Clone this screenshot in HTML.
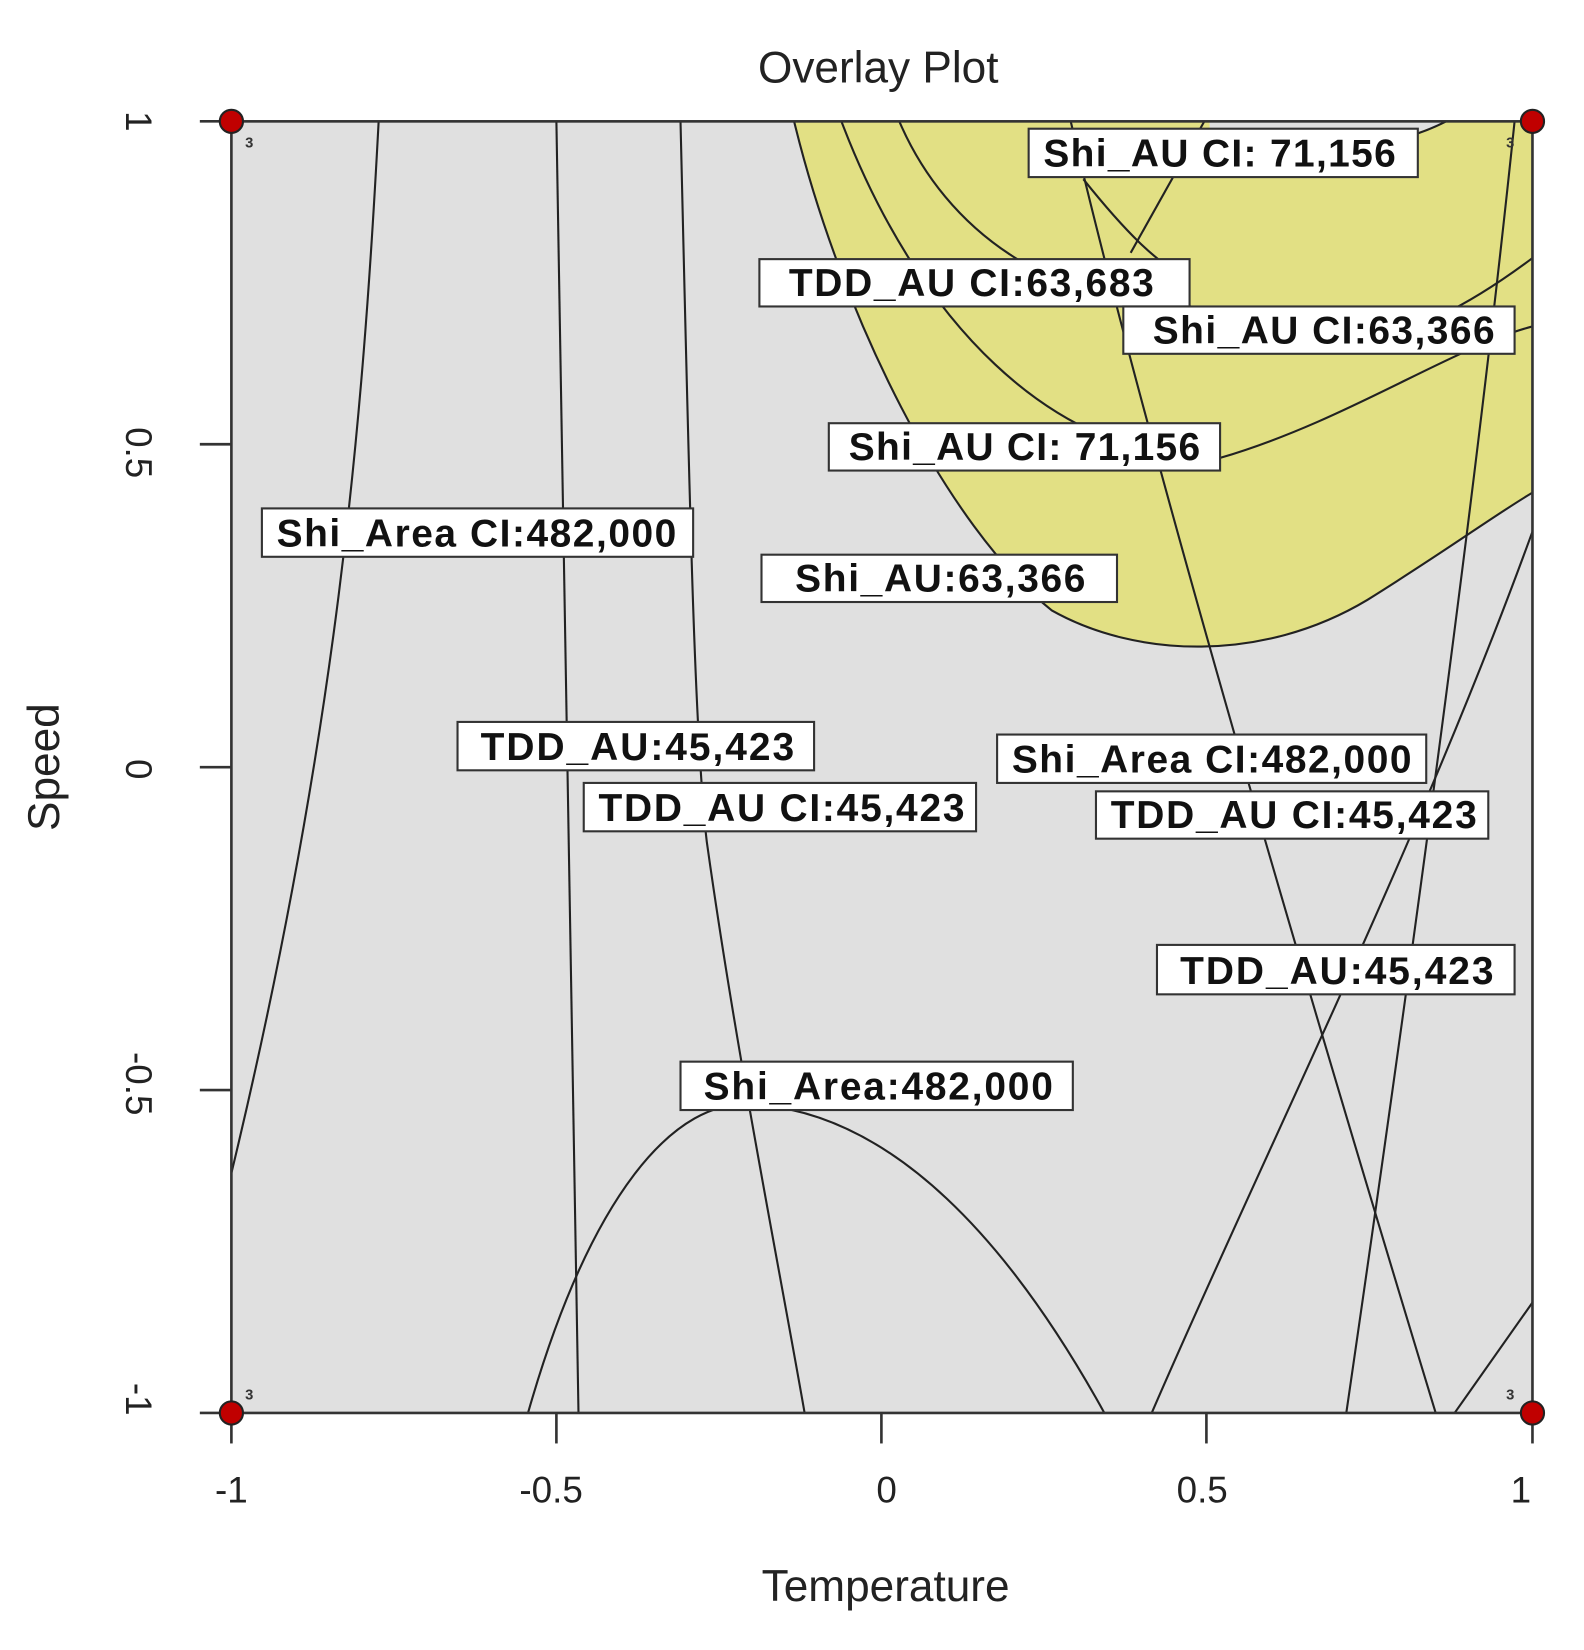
<!DOCTYPE html>
<html><head><style>html,body{margin:0;padding:0;background:#fff;}svg{display:block;}</style></head>
<body>
<svg width="1584" height="1650" viewBox="0 0 1506 1568" xmlns="http://www.w3.org/2000/svg" font-family="'Liberation Sans', sans-serif">
<rect x="0" y="0" width="1506" height="1568" fill="#fff"/>
<rect x="220" y="115" width="1237" height="1228" fill="#e0e0e0"/>
<path d="M755,115 C800,300 900,500 1000,580 C1080,625 1200,630 1300,570 C1380,520 1420,490 1457,468 L1457,115 Z" fill="#e2e084"/>
<path d="M1150,115 L1375,115 C1345,128 1310,136 1285,142 L1150,142 Z" fill="#e0e0e0"/>
<g fill="none" stroke="#222" stroke-width="2">
<path d="M755,115 C800,300 900,500 1000,580 C1080,625 1200,630 1300,570 C1380,520 1420,490 1457,468"/>
<path d="M360,115 C345,400 320,700 220,1115"/>
<path d="M529,115 C535,500 545,900 550,1343"/>
<path d="M647,115 C655,450 660,700 672,800 C700,1000 740,1200 765,1343"/>
<path d="M502,1343 C560,1140 640,1040 720,1050 C850,1060 960,1180 1050,1343"/>
<path d="M800,115 C870,300 1000,440 1160,435 C1280,400 1380,330 1457,310"/>
<path d="M855,115 C900,220 1000,290 1130,290 C1250,345 1330,340 1457,245"/>
<path d="M1018,115 C1080,380 1200,800 1365,1343"/>
<path d="M1145,115 L1075,240"/>
<path d="M1030,170 C1070,220 1100,250 1130,265"/>
<path d="M1440,115 C1400,500 1330,1000 1280,1343"/>
<path d="M1457,505 C1350,800 1200,1100 1095,1343"/>
<path d="M1457,1238 L1383,1343"/>
<path d="M1285,142 C1320,136 1350,128 1375,115"/>
</g>
<rect x="220" y="115" width="1237" height="1228" fill="none" stroke="#333" stroke-width="2.5"/>
<g stroke="#333" stroke-width="2.5">
<line x1="220" y1="1343" x2="220" y2="1372"/><line x1="529" y1="1343" x2="529" y2="1372"/><line x1="838" y1="1343" x2="838" y2="1372"/><line x1="1147" y1="1343" x2="1147" y2="1372"/><line x1="1457" y1="1343" x2="1457" y2="1372"/>
<line x1="190" y1="115" x2="220" y2="115"/><line x1="190" y1="422" x2="220" y2="422"/><line x1="190" y1="729" x2="220" y2="729"/><line x1="190" y1="1036" x2="220" y2="1036"/><line x1="190" y1="1343" x2="220" y2="1343"/>
</g>
<g fill="#c00000" stroke="#222" stroke-width="2">
<circle cx="220" cy="115" r="11"/><circle cx="1457" cy="115" r="11"/><circle cx="220" cy="1343" r="11"/><circle cx="1457" cy="1343" r="11"/>
</g>
<g font-size="14" fill="#333" font-weight="bold">
<text x="233" y="140">3</text><text x="1432" y="140">3</text><text x="233" y="1330">3</text><text x="1432" y="1330">3</text>
</g>
<g font-size="35" fill="#222" text-anchor="middle">
<text x="220" y="1428">-1</text><text x="524" y="1428">-0.5</text><text x="843" y="1428">0</text><text x="1143" y="1428">0.5</text><text x="1446" y="1428">1</text>
<text transform="translate(120,115) rotate(90)">1</text>
<text transform="translate(120,430) rotate(90)">0.5</text>
<text transform="translate(120,731) rotate(90)">0</text>
<text transform="translate(120,1030) rotate(90)">-0.5</text>
<text transform="translate(120,1330) rotate(90)">-1</text>
</g>
<text x="835" y="78" font-size="42" text-anchor="middle" fill="#222">Overlay Plot</text>
<text x="842" y="1522" font-size="42" text-anchor="middle" fill="#222">Temperature</text>
<text transform="translate(56,729) rotate(-90)" font-size="42" text-anchor="middle" fill="#222">Speed</text>
<g font-size="37" font-weight="bold" fill="#111">
<g fill="#fff" stroke="#333" stroke-width="2">
<rect x="978" y="122" width="370" height="46"/>
<rect x="722" y="246" width="409" height="45"/>
<rect x="1068" y="291" width="372" height="45"/>
<rect x="788" y="402" width="372" height="45"/>
<rect x="249" y="483" width="410" height="46"/>
<rect x="724" y="527" width="338" height="45"/>
<rect x="435" y="686" width="339" height="46"/>
<rect x="555" y="744" width="373" height="46"/>
<rect x="948" y="698" width="408" height="46"/>
<rect x="1042" y="752" width="373" height="45"/>
<rect x="1100" y="898" width="340" height="47"/>
<rect x="647" y="1009" width="373" height="46"/>
</g>
<text x="992" y="158" textLength="335">Shi_AU CI: 71,156</text>
<text x="750" y="281" textLength="347">TDD_AU CI:63,683</text>
<text x="1096" y="326" textLength="325">Shi_AU CI:63,366</text>
<text x="807" y="437" textLength="334">Shi_AU CI: 71,156</text>
<text x="263" y="519" textLength="380">Shi_Area CI:482,000</text>
<text x="756" y="562" textLength="276">Shi_AU:63,366</text>
<text x="457" y="722" textLength="298">TDD_AU:45,423</text>
<text x="569" y="780" textLength="348">TDD_AU CI:45,423</text>
<text x="962" y="734" textLength="380">Shi_Area CI:482,000</text>
<text x="1056" y="787" textLength="348">TDD_AU CI:45,423</text>
<text x="1122" y="935" textLength="298">TDD_AU:45,423</text>
<text x="669" y="1045" textLength="332">Shi_Area:482,000</text>
</g>
</svg>
</body></html>
